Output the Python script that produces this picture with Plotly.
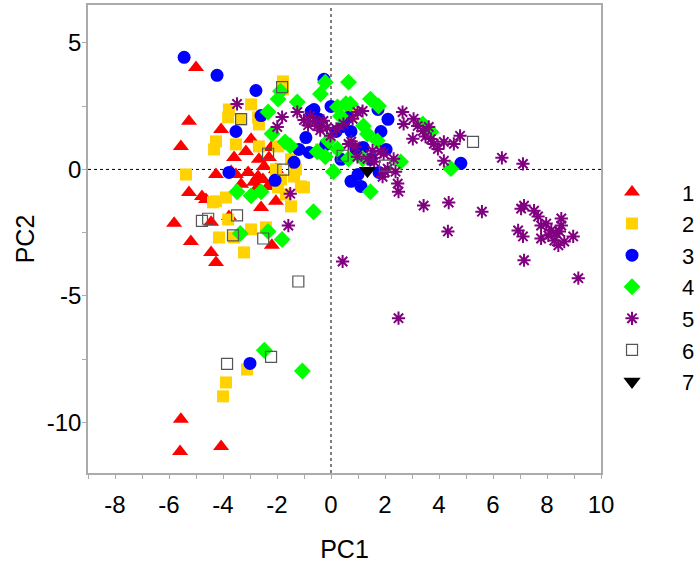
import plotly.graph_objects as go

# ---- data (PC1, PC2) per group ----
g1_x = [-5.0, -5.26, -5.56, -4.07, -3.59, -2.96, -2.22, -2.67, -4.26, -5.26, -4.78, -2.04, -5.81, -5.19,
        -4.44, -4.26, -4.44, -3.78, -2.59, -2.19, -3.52, -2.70, -3.07, -2.48, -2.85, -2.33, -3.70, -3.15,
        -2.52, -2.78, -3.33, -2.04, -5.56, -5.59, -4.07, -2.30, -4.63]
g1_y = [4.03, 1.90, 0.91, 1.58, 0.47, 1.19, 0.87, 0.40, -0.20, -0.91, -1.07, -1.26, -2.13, -2.85,
        -3.28, -3.68, -2.09, -1.86, -1.50, -3.00, -0.20, -0.28, -0.12, 0.12, -0.51, -0.67, -0.08, 0.71,
        -0.40, -0.79, -0.59, 0.0, -9.88, -11.15, -10.95, 0.47, -1.19]

g2_x = [-1.78, -1.78, -3.78, -2.96, -2.70, -3.33, -4.26, -4.33, -3.52, -2.67, -1.96, -5.37, -2.04,
        -1.96, -1.85, -1.37, -1.11, -4.26, -3.89, -1.48, -1.0, -3.81, -2.96, -2.41, -3.22, -3.59, -4.15,
        -3.11, -3.89, -4.0, -1.48, -4.37, -0.37, 0.74, -2.67, -3.81, -1.30, -1.67]
g2_y = [3.48, 3.16, 2.37, 2.57, 2.06, 1.98, 1.11, 0.79, 0.99, 0.91, 0.91, -0.20, 0.0,
        -0.71, -0.40, -0.28, -0.67, -1.26, -1.11, -1.46, -0.71, -1.98, -2.37, -2.29, -3.28, -2.69, -2.69,
        -7.91, -8.42, -8.97, 0.40, -1.30, 0.79, 2.17, 1.78, 2.06, 0.0, -0.99]

g3_x = [-5.44, -4.22, -2.78, -2.59, -3.52, -3.78, -2.07, -1.37, -0.93, -0.81, -0.74, -0.26, -0.63,
        0.19, 0.44, 0.74, 0.93, 1.19, 1.74, 1.85, 2.11, 0.74, 1.11, 1.0, 1.78, 2.04, 4.81, -3.0,
        0.0, 0.63, -0.44, -0.19, 1.48, 0.37, -1.19]
g3_y = [4.43, 3.72, 3.12, 2.13, 1.50, -0.12, -0.43, 0.28, 1.26, 0.67, 2.29, 3.56, 2.37,
        1.50, 1.70, 1.50, 0.79, 0.87, 2.37, 1.50, 1.98, -0.47, -0.67, -0.20, -0.12, 0.79, 0.24, -7.67,
        2.49, 2.06, 1.98, 0.99, 0.40, 0.40, 0.79]

g4_x = [-1.87, -1.25, -2.33, -1.96, -0.39, -1.70, -2.18, 0.65, 1.46, 1.76, 0.24, 0.72, 1.20, -0.10,
        -0.21, 0.24, 0.09, 0.65, 1.17, 1.72, 2.58, 1.46, 4.44, -1.51, -0.51, 0.35, 3.70, 3.40, -3.48,
        -2.96, -2.59, -3.36, -2.33, -1.81, -0.65, -2.47, -1.06, -0.21, 1.35, 0.55]
g4_y = [3.09, 2.67, 2.27, 2.78, 2.98, 1.09, 1.41, 3.45, 2.78, 2.51, 2.47, 2.59, 1.72, 1.13,
        0.50, 0.81, -0.09, 0.42, 0.42, 1.13, 0.30, -0.88, 0.03, 0.93, 0.70, 2.11, 1.48, 1.80, -0.88,
        -1.04, -0.88, -2.53, -2.45, -2.77, -1.67, -7.15, -7.97, 3.45, 1.40, 2.60]

g5_x = [-3.48, -1.81, -1.99, -1.51, -1.58, 0.43, 2.50,
        -1.25, -0.77, -0.51, -0.28, -0.02, 0.46, 0.98, 1.17, 0.80, 0.65, 0.98, 1.54, 1.84, 1.35, 2.32,
        1.91, -0.60, -1.00, -0.40, -0.15, 0.20, -0.85, 0.75, 0.90, 1.60, 2.00,
        2.65, 2.69, 3.06, 3.21, 3.03, 3.40, 3.62, 3.81, 3.96, 2.39, 2.47, 2.50, 2.10, 1.95, 4.78, 4.55,
        4.18, 4.18, 6.33, 7.11, 4.36, 3.43, 5.59, 4.33, 7.15, 7.04, 7.52, 7.67, 7.78, 6.93, 7.11, 7.15,
        8.16, 8.53, 8.53, 8.46, 8.27, 8.42, 8.64, 8.97, 9.16, 8.05, 7.97, 8.34, 7.78, 3.50, 3.70]
g5_y = [2.59, 2.07, 1.68, -0.96, -2.22, -3.64, -5.88,
        2.27, 2.11, 1.72, 1.92, 1.33, 1.80, 2.27, 2.31, 2.00, 1.01, 0.50, 0.74, 0.70, 0.42, 0.42,
        -0.29, 1.90, 1.95, 1.55, 1.65, 1.60, 1.75, 1.10, 0.90, 0.30, -0.10,
        2.27, 1.80, 2.00, 1.72, 1.21, 1.52, 1.68, 1.01, 0.81, -0.09, -0.56, -0.88, 0.03, 0.62, 1.33, 1.01,
        1.09, 0.34, 0.46, 0.22, -1.31, -1.43, -1.67, -2.45, -1.43, -1.55, -1.63, -1.86, -2.22, -2.41, -2.65, -3.59,
        -2.41, -1.94, -2.22, -2.45, -2.81, -3.00, -2.85, -2.65, -4.30, -2.61, -2.14, -2.53, -2.73, 1.30, 1.20]

g6_x = [-1.81, -3.33, -2.33, -1.77, -4.78, -4.55, -3.48, -3.63, -2.51, -1.21, -3.85, -2.22, 5.26, 0.43, 2.0]
g6_y = [3.25, 1.99, 0.62, -0.01, -2.03, -1.95, -1.82, -2.61, -2.73, -4.43, -7.69, -7.41, 1.09, 0.54, 0.15]

g7_x = [1.35]
g7_y = [-0.05]

group_names = ["1", "2", "3", "4", "5", "6", "7"]
x_ticks = list(range(-9, 11))
x_ticktext = [str(v) if v % 2 == 0 else "" for v in x_ticks]
y_ticks = [-10, -7.5, -5, -2.5, 0, 2.5, 5]
y_ticktext = ["-10", "", "-5", "", "0", "", "5"]

FONT = "Liberation Sans, Arial, sans-serif"

styles = [
    dict(symbol="triangle-up", size=14, color="#FF0000", line=dict(width=0)),
    dict(symbol="square", size=12, color="#FFD200", line=dict(width=0)),
    dict(symbol="circle", size=13, color="#0000FF", line=dict(width=0)),
    dict(symbol="diamond", size=13, color="#00FF00", line=dict(width=0)),
    dict(symbol="asterisk-open", size=11, color="#800080", line=dict(width=2, color="#800080")),
    dict(symbol="square-open", size=11, color="#555555", line=dict(width=1.2, color="#555555")),
    dict(symbol="triangle-down", size=15, color="#000000", line=dict(width=0)),
]
series = [(g1_x, g1_y), (g2_x, g2_y), (g3_x, g3_y), (g4_x, g4_y), (g5_x, g5_y), (g6_x, g6_y), (g7_x, g7_y)]

fig = go.Figure()
# zero reference lines
fig.add_shape(type="line", xref="x", yref="paper", x0=0, x1=0, y0=0, y1=1,
              line=dict(color="black", width=1, dash="3px,3px"), layer="below")
fig.add_shape(type="line", xref="paper", yref="y", x0=0, x1=1, y0=0, y1=0,
              line=dict(color="black", width=1, dash="3px,3px"), layer="below")

for name, (xs, ys), st in zip(group_names, series, styles):
    fig.add_trace(go.Scatter(x=xs, y=ys, mode="markers", name=name, marker=st))

axis_common = dict(showline=True, linecolor="#ababab", linewidth=1.5, mirror=True,
                   ticks="outside", ticklen=4, tickcolor="#ababab", tickwidth=1,
                   showgrid=False, zeroline=False, automargin=False,
                   tickfont=dict(family=FONT, size=24, color="black"))

fig.update_xaxes(range=[-9, 10], tickmode="array", tickvals=x_ticks, ticktext=x_ticktext,
                 title=dict(text="PC1", font=dict(family=FONT, size=25, color="black"), standoff=26),
                 ticklabelstandoff=5, **axis_common)
fig.update_yaxes(range=[-12, 6.5], tickmode="array", tickvals=y_ticks, ticktext=y_ticktext,
                 title=dict(text="PC2", font=dict(family=FONT, size=25, color="black"), standoff=5),
                 ticklabelstandoff=-4, **axis_common)

fig.update_layout(
    width=700, height=563,
    margin=dict(l=88, r=99, t=5, b=90, autoexpand=False),
    paper_bgcolor="white", plot_bgcolor="white",
    font=dict(family=FONT, color="black"),
    legend=dict(x=0.963, y=0.645, xanchor="left", yanchor="top",
                font=dict(family=FONT, size=22, color="black"),
                itemwidth=90, bgcolor="rgba(0,0,0,0)"),
)

fig.write_html("out.html", config={"displayModeBar": False},
               post_script="document.body.style.margin='0px';document.body.style.padding='0px';")
